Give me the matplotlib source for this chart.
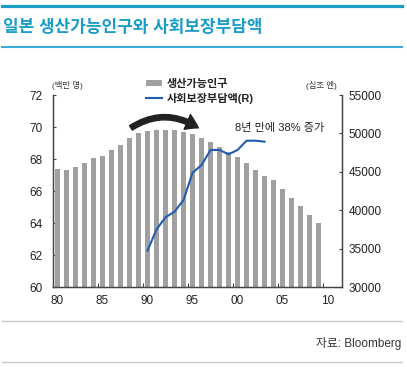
import matplotlib
matplotlib.use("Agg")
import matplotlib.pyplot as plt
from matplotlib.lines import Line2D
from matplotlib.patches import Patch, FancyArrowPatch

plt.rcParams['font.family'] = ['Liberation Sans', 'Noto Sans CJK KR', 'DejaVu Sans']

# ---- data ----
years = list(range(1980, 2010))
working_pop = [67.4, 67.3, 67.5, 67.77, 68.04, 68.2, 68.56, 68.9, 69.3, 69.6,
               69.75, 69.8, 69.8, 69.8, 69.67, 69.56, 69.3, 69.04, 68.77, 68.46,
               68.1, 67.73, 67.3, 66.96, 66.67, 66.1, 65.56, 65.04, 64.48, 63.98]
burden_years = list(range(1990, 2004))
social_burden = [34730, 37510, 39080, 39810, 41330, 44880, 45880, 47840, 47840,
                 47280, 47840, 49050, 49050, 48920]
tick_years = [1980, 1985, 1990, 1995, 2000, 2005, 2010]
tick_labels = ['80', '85', '90', '95', '00', '05', '10']

title = '일본 생산가능인구와 사회보장부담액'
legend_labels = ['생산가능인구', '사회보장부담액(R)']
note = '8년 만에 38% 증가'
source = '자료: Bloomberg'

W, H = 407, 367
fig = plt.figure(figsize=(W / 100, H / 100), dpi=100)

def fx(px):
    return px / W

def fy(py):
    return 1 - py / H

ax = fig.add_axes([fx(53), fy(287), fx(342) - fx(53), fy(95) - fy(287)])
ax2 = ax.twinx()

bar_color = '#a0a0a0'
line_color = '#1f5cb3'
spine_color = '#444444'

ax.bar(years, working_pop, width=0.48, color=bar_color, zorder=2)
ax.set_ylim(60, 72)
ax.set_xlim(1979.5, 2011.6)
ax2.set_ylim(30000, 55000)
ax2.plot(burden_years, social_burden, color=line_color, lw=1.5, zorder=3)

ax.set_yticks(range(60, 73, 2))
ax2.set_yticks(range(30000, 55001, 5000))
ax.set_xticks([y - 0.5 for y in tick_years[1:]])
ax.set_xticklabels([])
ax.set_xticks(tick_years, minor=True)
ax.set_xticklabels(tick_labels, minor=True)

ax.tick_params(axis='x', which='major', direction='in', length=3, color=spine_color, width=0.8)
ax.tick_params(axis='x', which='minor', length=0, pad=6, labelsize=8.5, labelcolor='#222222')
ax.tick_params(axis='y', direction='in', length=2.5, color=spine_color, width=0.8,
               pad=7.5, labelsize=8.5, labelcolor='#222222')
ax2.tick_params(axis='y', direction='in', length=2.5, color=spine_color, width=0.8,
                pad=4.5, labelsize=8.5, labelcolor='#222222')

for a in (ax, ax2):
    a.spines['top'].set_visible(False)
    for s in ('left', 'right', 'bottom'):
        a.spines[s].set_color(spine_color)
        a.spines[s].set_linewidth(0.9)

# units
fig.text(fx(52), fy(86), '(백만 명)', fontsize=6, color='#333333', ha='left', va='center')
fig.text(fx(337), fy(86), '(십조 엔)', fontsize=6, color='#333333', ha='right', va='center')

# annotation text
fig.text(fx(235), fy(128), note, fontsize=8, color='#222222', ha='left', va='center')

# curved arrow
arrow = FancyArrowPatch((1987.9, 69.85), (1995.9, 69.85),
                        connectionstyle='arc3,rad=-0.34',
                        arrowstyle='simple,head_length=0.9,head_width=1.15,tail_width=0.38',
                        mutation_scale=10, color='#222222', zorder=5, clip_on=False)
ax.add_patch(arrow)

# legend
handles = [Patch(facecolor=bar_color, edgecolor='none'),
           Line2D([0], [0], color=line_color, lw=1.5)]
leg = ax2.legend(handles, legend_labels, loc='upper left',
                 bbox_to_anchor=(fx(146), fy(79)), bbox_transform=fig.transFigure,
                 frameon=False, borderpad=0, borderaxespad=0, handlelength=1.45,
                 handleheight=0.5, handletextpad=0.45, labelspacing=0.35,
                 prop={'size': 8, 'weight': 'bold'})
for t in leg.get_texts():
    t.set_color('#222222')

# title & decorations
teal = '#1a9cc8'
fig.add_artist(Line2D([fx(2), fx(402)], [fy(5.5), fy(5.5)], color=teal, lw=2.3))
fig.text(fx(3), fy(27), title, fontsize=12.2, color=teal, ha='left', va='center',
         fontweight='bold')
fig.add_artist(Line2D([fx(2), fx(402)], [fy(46.7), fy(46.7)], color='#3aaed4', lw=1.5))
fig.add_artist(Line2D([fx(2), fx(402)], [fy(320.7), fy(320.7)], color='#c8c8c8', lw=1))
fig.add_artist(Line2D([fx(2), fx(402)], [fy(361.7), fy(361.7)], color='#c8c8c8', lw=1))
fig.text(fx(401), fy(343), source, fontsize=8.5, color='#333333', ha='right', va='center')

fig.savefig('out.png', dpi=100)
